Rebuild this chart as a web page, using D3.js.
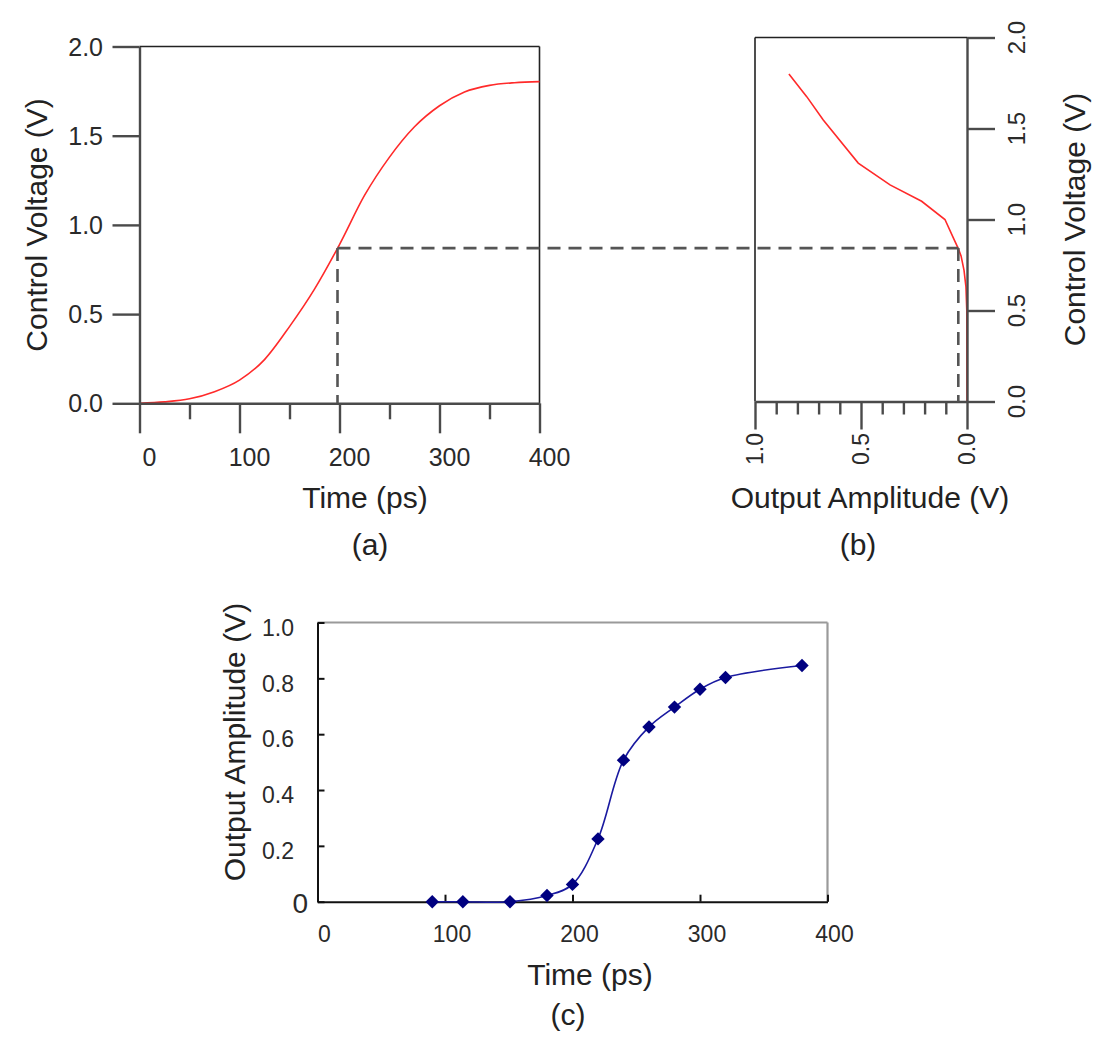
<!DOCTYPE html>
<html>
<head>
<meta charset="utf-8">
<script src="https://cdn.jsdelivr.net/npm/d3@7"></script>
<style>
  body { margin: 0; background: #fff; }
  text { font-family: "Liberation Sans", Arial, sans-serif; }
</style>
</head>
<body>
<svg id="chart" width="1094" height="1038"></svg>
<script>
// ---------- Data ----------
// Panel (a): control voltage vs time
const timeA = [0, 25, 50, 75, 100, 125, 150, 175, 200, 225, 250, 275, 300, 325, 350, 375, 400];
const voltA = [0, 0.008, 0.025, 0.065, 0.13, 0.245, 0.43, 0.64, 0.89, 1.165, 1.38, 1.55, 1.668, 1.745, 1.782, 1.797, 1.803];

// Panel (b): output amplitude vs control voltage
const voltB = [0, 0.5, 0.63, 0.72, 0.8, 0.84, 0.9, 1.0, 1.1, 1.19, 1.31, 1.547, 1.675, 1.8];
const ampB  = [0, 0.001, 0.005, 0.014, 0.028, 0.041, 0.065, 0.104, 0.214, 0.363, 0.513, 0.678, 0.756, 0.84];

// Panel (c): output amplitude vs time (measured points)
const timeC = [90, 114, 151, 180, 200, 220, 240, 260, 280, 300, 320, 380];
const ampC  = [0, 0, 0, 0.022, 0.062, 0.225, 0.507, 0.626, 0.697, 0.761, 0.803, 0.846];

// Guide (dashed) crossing point
const crossTime = 198, crossVolt = 0.87, crossAmp = 0.041;

// Tick values / labels
const ticksAx = [0, 100, 200, 300, 400];
const minorAx = [50, 150, 250, 350];
const ticksAy = [0, 0.5, 1.0, 1.5, 2.0];
const ticksBx = [1.0, 0.5, 0.0];
const minorBx = [0.9, 0.8, 0.7, 0.6, 0.4, 0.3, 0.2, 0.1];
const ticksBy = [0, 0.5, 1.0, 1.5, 2.0];
const ticksCx = [0, 100, 200, 300, 400];
const ticksCy = [0, 0.2, 0.4, 0.6, 0.8, 1.0];
const labelsCy = ["0", "0.2", "0.4", "0.6", "0.8", "1.0"];

// ---------- Setup ----------
const svg = d3.select("#chart");
const AX = "#4a4a4a", TXT = "#2a2a2a";

const xa = d3.scaleLinear().domain([0, 400]).range([139.5, 539.5]);
const ya = d3.scaleLinear().domain([0, 2]).range([403.3, 46.5]);
const xb = d3.scaleLinear().domain([1, 0]).range([755, 967]);
const yb = d3.scaleLinear().domain([0, 2]).range([401.5, 37.5]);
const xc = d3.scaleLinear().domain([0, 400]).range([317.5, 827.5]);
const yc = d3.scaleLinear().domain([0, 1]).range([901.7, 622.5]);

function styleAxis(g, color, w) {
  g.selectAll("path.domain").attr("stroke", color).attr("stroke-width", w);
  g.selectAll(".tick line").attr("stroke", color).attr("stroke-width", w);
  g.selectAll(".tick text").remove();
}

// ---------- Panel (a) ----------
const gA = svg.append("g");
gA.append("line").attr("x1", xa(0)).attr("x2", xa(400)).attr("y1", ya(2)).attr("y2", ya(2))
  .attr("stroke", "#222").attr("stroke-width", 1.6);
gA.append("line").attr("x1", xa(400)).attr("x2", xa(400)).attr("y1", ya(2)).attr("y2", ya(0))
  .attr("stroke", "#222").attr("stroke-width", 1.6);

gA.append("path")
  .datum(timeA.map((t, i) => [t, voltA[i]]))
  .attr("fill", "none").attr("stroke", "#ff2a2a").attr("stroke-width", 1.6)
  .attr("d", d3.line().x(d => xa(d[0])).y(d => ya(d[1])).curve(d3.curveMonotoneX));

const axAx = gA.append("g").attr("transform", `translate(0,${ya(0)})`)
  .call(d3.axisBottom(xa).tickValues(ticksAx).tickSize(30).tickSizeOuter(0).tickFormat(""));
styleAxis(axAx, AX, 2.4);
const axAxm = gA.append("g").attr("transform", `translate(0,${ya(0)})`)
  .call(d3.axisBottom(xa).tickValues(minorAx).tickSize(16).tickSizeOuter(0).tickFormat(""));
styleAxis(axAxm, AX, 2.4);
axAxm.select("path.domain").remove();
const axAy = gA.append("g").attr("transform", `translate(${xa(0)},0)`)
  .call(d3.axisLeft(ya).tickValues(ticksAy).tickSize(27).tickSizeOuter(0).tickFormat(""));
styleAxis(axAy, AX, 2.4);

gA.selectAll("text.xa").data(ticksAx).join("text")
  .attr("x", d => xa(d) + 10).attr("y", 466)
  .attr("text-anchor", "middle").attr("font-size", 25).attr("fill", TXT)
  .text(d => d);
gA.selectAll("text.ya").data(ticksAy).join("text")
  .attr("x", 103).attr("y", d => ya(d)).attr("dy", "0.36em")
  .attr("text-anchor", "end").attr("font-size", 25).attr("fill", TXT)
  .text(d => d3.format(".1f")(d));

gA.append("text").attr("x", 365).attr("y", 508).attr("text-anchor", "middle")
  .attr("font-size", 30).attr("fill", "#222").text("Time (ps)");
gA.append("text").attr("x", 370).attr("y", 555).attr("text-anchor", "middle")
  .attr("font-size", 30).attr("fill", "#222").text("(a)");
gA.append("text").attr("transform", `translate(47,${ya(1)}) rotate(-90)`)
  .attr("text-anchor", "middle").attr("font-size", 30).attr("fill", "#222")
  .text("Control Voltage (V)");

// ---------- Panel (b) ----------
const gB = svg.append("g");
gB.append("line").attr("x1", xb(1)).attr("x2", xb(0)).attr("y1", yb(2)).attr("y2", yb(2))
  .attr("stroke", "#222").attr("stroke-width", 1.6);
gB.append("line").attr("x1", xb(1)).attr("x2", xb(1)).attr("y1", yb(2)).attr("y2", yb(0))
  .attr("stroke", "#222").attr("stroke-width", 1.6);

gB.append("path")
  .datum(voltB.map((v, i) => [ampB[i], v]))
  .attr("fill", "none").attr("stroke", "#ff2a2a").attr("stroke-width", 1.6)
  .attr("d", d3.line().x(d => xb(d[0])).y(d => yb(d[1])).curve(d3.curveLinear));

// ---------- dashed guides ----------
const dash = { stroke: "#555", w: 2.6, a: "13,8" };
svg.append("line")
  .attr("x1", xa(crossTime)).attr("x2", xb(crossAmp))
  .attr("y1", ya(crossVolt)).attr("y2", ya(crossVolt))
  .attr("stroke", dash.stroke).attr("stroke-width", dash.w).attr("stroke-dasharray", dash.a);
svg.append("line")
  .attr("x1", xa(crossTime)).attr("x2", xa(crossTime))
  .attr("y1", ya(crossVolt)).attr("y2", ya(0))
  .attr("stroke", dash.stroke).attr("stroke-width", dash.w).attr("stroke-dasharray", dash.a);
svg.append("line")
  .attr("x1", xb(crossAmp)).attr("x2", xb(crossAmp))
  .attr("y1", ya(crossVolt)).attr("y2", yb(0))
  .attr("stroke", dash.stroke).attr("stroke-width", dash.w).attr("stroke-dasharray", dash.a);

const axBx = gB.append("g").attr("transform", `translate(0,${yb(0)})`)
  .call(d3.axisBottom(xb).tickValues(ticksBx).tickSize(28).tickSizeOuter(0).tickFormat(""));
styleAxis(axBx, AX, 2.4);
const axBxm = gB.append("g").attr("transform", `translate(0,${yb(0)})`)
  .call(d3.axisBottom(xb).tickValues(minorBx).tickSize(13).tickSizeOuter(0).tickFormat(""));
styleAxis(axBxm, AX, 2.4);
axBxm.select("path.domain").remove();
const axBy = gB.append("g").attr("transform", `translate(${xb(0)},0)`)
  .call(d3.axisRight(yb).tickValues(ticksBy).tickSize(28).tickSizeOuter(0).tickFormat(""));
styleAxis(axBy, AX, 2.4);

gB.selectAll("text.xb").data(ticksBx).join("text")
  .attr("transform", d => `translate(${xb(d) + 8},433) rotate(-90)`)
  .attr("text-anchor", "end").attr("font-size", 23).attr("fill", TXT)
  .text(d => d3.format(".1f")(d));
gB.selectAll("text.yb").data(ticksBy).join("text")
  .attr("transform", d => `translate(1025,${yb(d)}) rotate(-90)`)
  .attr("text-anchor", "middle").attr("font-size", 24).attr("fill", TXT)
  .text(d => d3.format(".1f")(d));

gB.append("text").attr("x", 870).attr("y", 508).attr("text-anchor", "middle")
  .attr("font-size", 30).attr("fill", "#222").text("Output Amplitude (V)");
gB.append("text").attr("x", 858).attr("y", 555).attr("text-anchor", "middle")
  .attr("font-size", 30).attr("fill", "#222").text("(b)");
gB.append("text").attr("transform", `translate(1085,${yb(1)}) rotate(-90)`)
  .attr("text-anchor", "middle").attr("font-size", 30).attr("fill", "#222")
  .text("Control Voltage (V)");

// ---------- Panel (c) ----------
const gC = svg.append("g");
gC.append("line").attr("x1", xc(0)).attr("x2", xc(400)).attr("y1", yc(1)).attr("y2", yc(1))
  .attr("stroke", "#9a9a9a").attr("stroke-width", 2.2);
gC.append("line").attr("x1", xc(400)).attr("x2", xc(400)).attr("y1", yc(1)).attr("y2", yc(0))
  .attr("stroke", "#9a9a9a").attr("stroke-width", 2.2);

const axCx = gC.append("g").attr("transform", `translate(0,${yc(0)})`)
  .call(d3.axisBottom(xc).tickValues(ticksCx).tickSize(-7).tickSizeOuter(0).tickFormat(""));
styleAxis(axCx, "#111", 2);
const axCy = gC.append("g").attr("transform", `translate(${xc(0)},0)`)
  .call(d3.axisLeft(yc).tickValues(ticksCy).tickSize(-7).tickSizeOuter(0).tickFormat(""));
styleAxis(axCy, "#111", 2);

gC.append("path")
  .datum(timeC.map((t, i) => [t, ampC[i]]))
  .attr("fill", "none").attr("stroke", "#1a1aa0").attr("stroke-width", 1.6)
  .attr("d", d3.line().x(d => xc(d[0])).y(d => yc(d[1])).curve(d3.curveCatmullRom.alpha(0.5)));

gC.selectAll("path.mk").data(timeC.map((t, i) => [t, ampC[i]])).join("path")
  .attr("class", "mk")
  .attr("transform", d => `translate(${xc(d[0])},${yc(d[1])}) rotate(45)`)
  .attr("d", d3.symbol().type(d3.symbolSquare).size(90))
  .attr("fill", "#000080");

gC.selectAll("text.xc").data(ticksCx).join("text")
  .attr("x", d => xc(d) + 7).attr("y", 941.5)
  .attr("text-anchor", "middle").attr("font-size", 23).attr("fill", TXT)
  .text(d => d);
gC.selectAll("text.yc").data(ticksCy).join("text")
  .attr("x", (d, i) => i === 0 ? 308 : 294)
  .attr("y", (d, i) => yc(d) + (i === 0 ? 1 : 5)).attr("dy", "0.36em")
  .attr("text-anchor", "end").attr("font-size", (d, i) => i === 0 ? 28 : 23).attr("fill", TXT)
  .text((d, i) => labelsCy[i]);

gC.append("text").attr("x", 590).attr("y", 985).attr("text-anchor", "middle")
  .attr("font-size", 30).attr("fill", "#222").text("Time (ps)");
gC.append("text").attr("x", 568).attr("y", 1025).attr("text-anchor", "middle")
  .attr("font-size", 30).attr("fill", "#222").text("(c)");
gC.append("text").attr("transform", `translate(245,${yc(0.5) - 20}) rotate(-90)`)
  .attr("text-anchor", "middle").attr("font-size", 30).attr("fill", "#222")
  .text("Output Amplitude (V)");
</script>
</body>
</html>
